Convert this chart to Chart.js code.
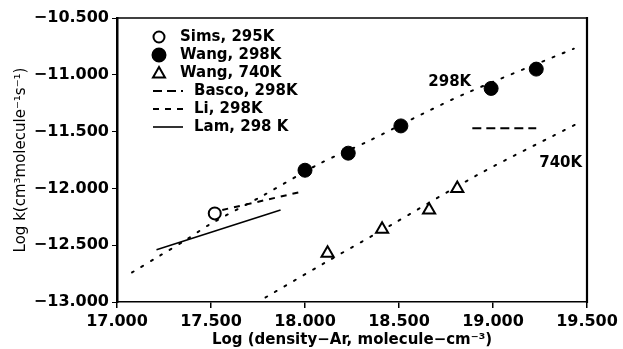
<!DOCTYPE html>
<html>
<head>
<meta charset="utf-8">
<script src="https://cdn.jsdelivr.net/npm/chart.js@4"></script>
<style>
  html, body { margin: 0; padding: 0; background: #fff; }
  #wrap { width: 623px; height: 349px; }
</style>
</head>
<body>
<div id="wrap"><canvas id="chart" width="623" height="349"></canvas></div>
<script>
// axis ticks
const xTicks = [17.0, 17.5, 18.0, 18.5, 19.0, 19.5];
const yTicks = [-13.0, -12.5, -12.0, -11.5, -11.0, -10.5];

// measured points
const simsX = [17.52];
const simsY = [-12.22];
const wang298X = [18.00, 18.23, 18.51, 18.99, 19.23];
const wang298Y = [-11.84, -11.69, -11.45, -11.12, -10.95];
const wang740X = [18.12, 18.41, 18.66, 18.81];
const wang740Y = [-12.57, -12.36, -12.19, -12.00];

// literature lines
const bascoX = [18.89, 19.23];
const bascoY = [-11.47, -11.47];
const liX = [17.56, 17.98];
const liY = [-12.19, -12.03];
const lamX = [17.21, 17.87];
const lamY = [-12.54, -12.19];

// fitted falloff curves (dotted)
const fit298X = [17.08, 17.23, 17.37, 17.49, 17.78, 18.08, 18.33, 18.63, 18.86, 19.43];
const fit298Y = [-12.74, -12.59, -12.45, -12.32, -12.06, -11.78, -11.59, -11.34, -11.16, -10.77];
const fit740X = [17.79, 18.10, 18.45, 18.93, 19.46];
const fit740Y = [-12.96, -12.66, -12.33, -11.87, -11.42];

// curve labels
const curveLabels = ['298K', '740K'];
const curveLabelX = [18.77, 19.36];
const curveLabelY = [-11.06, -11.78];

const FONT = 'DejaVu Sans';

function pts(xs, ys) {
    return xs.map((x, i) => ({ x: x, y: ys[i] }));
}

const datasets = [
    { label: 'Sims, 295K', data: pts(simsX, simsY), pointStyle: 'circle', pointRadius: 6,
      pointBorderWidth: 2, borderColor: '#000', backgroundColor: '#fff', showLine: false, legend: 'marker' },
    { label: 'Wang, 298K', data: pts(wang298X, wang298Y), pointStyle: 'circle', pointRadius: 7,
      pointBorderWidth: 1, borderColor: '#000', backgroundColor: '#000', showLine: false, legend: 'marker' },
    { label: 'Wang, 740K', data: pts(wang740X, wang740Y), pointStyle: 'triangle', pointRadius: 7,
      pointBorderWidth: 2, borderColor: '#000', backgroundColor: '#fff', showLine: false, legend: 'marker' },
    { label: 'Basco, 298K', data: pts(bascoX, bascoY), showLine: true, pointRadius: 0,
      borderColor: '#000', borderWidth: 2, borderDash: [9, 5], legend: 'line' },
    { label: 'Li, 298K', data: pts(liX, liY), showLine: true, pointRadius: 0,
      borderColor: '#000', borderWidth: 2, borderDash: [6, 6], legend: 'line' },
    { label: 'Lam, 298 K', data: pts(lamX, lamY), showLine: true, pointRadius: 0,
      borderColor: '#000', borderWidth: 1.6, legend: 'line' },
    { label: 'fit298', data: pts(fit298X, fit298Y), showLine: true, pointRadius: 0, tension: 0.3,
      borderColor: '#000', borderWidth: 2, borderDash: [2, 9], borderCapStyle: 'round' },
    { label: 'fit740', data: pts(fit740X, fit740Y), showLine: true, pointRadius: 0, tension: 0.3,
      borderColor: '#000', borderWidth: 2, borderDash: [2, 9], borderCapStyle: 'round' }
];

// draws the frame, the in-plot legend and the curve labels
const decorations = {
    id: 'decorations',
    afterDraw(chart) {
        const ctx = chart.ctx;
        const a = chart.chartArea;
        const xs = chart.scales.x, ys = chart.scales.y;
        ctx.save();
        ctx.strokeStyle = '#000';
        ctx.lineWidth = 1.5;
        ctx.beginPath();
        ctx.moveTo(a.left, a.top);
        ctx.lineTo(a.right, a.top);
        ctx.stroke();
        ctx.lineWidth = 2.2;
        ctx.beginPath();
        ctx.moveTo(a.right, a.top - 1);
        ctx.lineTo(a.right, a.bottom + 1);
        ctx.stroke();

        // legend
        ctx.fillStyle = '#000';
        ctx.font = 'bold 15px "' + FONT + '"';
        ctx.textBaseline = 'middle';
        ctx.textAlign = 'left';
        const rowH = 18;
        const top = a.top + 19;
        const mx = a.left + 42;
        datasets.filter(d => d.legend).forEach((d, i) => {
            const y = top + i * rowH;
            if (d.legend === 'marker') {
                ctx.lineWidth = 2;
                ctx.fillStyle = d.backgroundColor;
                ctx.beginPath();
                if (d.pointStyle === 'triangle') {
                    const r = 6;
                    ctx.moveTo(mx, y - r);
                    ctx.lineTo(mx + r, y + r * 0.75);
                    ctx.lineTo(mx - r, y + r * 0.75);
                    ctx.closePath();
                } else {
                    ctx.arc(mx, y, d.backgroundColor === '#000' ? 6.5 : 5.5, 0, Math.PI * 2);
                }
                ctx.fill();
                ctx.stroke();
                ctx.fillStyle = '#000';
                ctx.fillText(d.label, a.left + 63, y);
            } else {
                ctx.lineWidth = d.borderWidth;
                ctx.setLineDash(d.borderDash || []);
                ctx.beginPath();
                ctx.moveTo(mx - 6, y);
                ctx.lineTo(mx + 24, y);
                ctx.stroke();
                ctx.setLineDash([]);
                ctx.fillText(d.label, a.left + 77, y);
            }
        });

        // curve labels
        ctx.textAlign = 'center';
        curveLabels.forEach((t, i) => {
            ctx.fillText(t, xs.getPixelForValue(curveLabelX[i]), ys.getPixelForValue(curveLabelY[i]));
        });
        ctx.restore();
    }
};

new Chart(document.getElementById('chart'), {
    type: 'scatter',
    data: { datasets: datasets },
    options: {
        responsive: false,
        animation: false,
        layout: { padding: { top: 18, right: 36, left: 0, bottom: 0 } },
        plugins: { legend: { display: false }, tooltip: { enabled: false } },
        scales: {
            x: {
                type: 'linear',
                min: 17.0, max: 19.5,
                afterBuildTicks: s => { s.ticks = xTicks.map(v => ({ value: v })); },
                afterFit: s => { s.height = 47; },
                border: { color: '#000', width: 1.6 },
                grid: { drawOnChartArea: false, color: '#000', tickLength: 6, lineWidth: 1.5 },
                ticks: {
                    color: '#000', padding: 4,
                    font: { family: FONT, size: 16, weight: 'bold' },
                    callback: v => v.toFixed(3)
                },
                title: {
                    display: true, color: '#000', padding: { top: 0, bottom: 0 },
                    font: { family: FONT, size: 15, weight: 'bold' },
                    text: 'Log (density\u2212Ar, molecule\u2212cm\u207B\u00B3)'
                }
            },
            y: {
                type: 'linear',
                min: -13.0, max: -10.5,
                afterBuildTicks: s => { s.ticks = yTicks.map(v => ({ value: v })); },
                afterFit: s => { s.width = 117; },
                border: { color: '#000', width: 2.5 },
                grid: { drawOnChartArea: false, color: '#000', tickLength: 5, lineWidth: 1 },
                ticks: {
                    color: '#000', padding: 3,
                    font: { family: FONT, size: 16, weight: 'bold' },
                    callback: v => '\u2212' + Math.abs(v).toFixed(3)
                },
                title: {
                    display: true, color: '#000', padding: { top: 12, bottom: 0 },
                    font: { family: FONT, size: 15 },
                    text: 'Log k(cm\u00B3molecule\u207B\u00B9s\u207B\u00B9)'
                }
            }
        }
    },
    plugins: [decorations]
});
</script>
</body>
</html>
